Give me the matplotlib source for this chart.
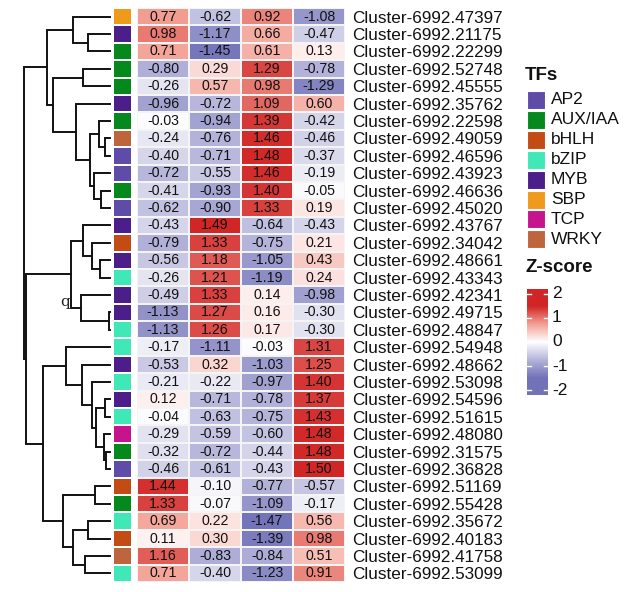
import numpy as np
import matplotlib
matplotlib.use("Agg")
import matplotlib.pyplot as plt
from matplotlib.colors import LinearSegmentedColormap, ListedColormap, Normalize
from matplotlib.patches import Rectangle

plt.rcParams['font.family'] = ['Liberation Sans', 'DejaVu Sans']

#   Row names (top to bottom, dendrogram order)
clusters = ["47397", "21175", "22299", "52748", "45555", "35762", "22598",
            "49059", "46596", "43923", "46636", "45020", "43767", "34042",
            "48661", "43343", "42341", "49715", "48847", "54948", "48662",
            "53098", "54596", "51615", "48080", "31575", "36828", "51169",
            "55428", "35672", "40183", "41758", "53099"]
row_labels = ["Cluster-6992." + c for c in clusters]

#   TF family of every row
tf_of_row = ["SBP", "MYB", "AUX/IAA", "AUX/IAA", "AUX/IAA", "MYB", "AUX/IAA",
             "WRKY", "AP2", "AP2", "AUX/IAA", "AP2", "MYB", "bHLH", "MYB",
             "bZIP", "MYB", "MYB", "bZIP", "bZIP", "MYB", "bZIP", "MYB",
             "bZIP", "TCP", "AUX/IAA", "AP2", "bHLH", "AUX/IAA", "bZIP",
             "bHLH", "WRKY", "bZIP"]

#   Z-scores, one list per sample column
col1 = [0.77, 0.98, 0.71, -0.80, -0.26, -0.96, -0.03, -0.24, -0.40, -0.72, -0.41,
        -0.62, -0.43, -0.79, -0.56, -0.26, -0.49, -1.13, -1.13, -0.17, -0.53, -0.21,
        0.12, -0.04, -0.29, -0.32, -0.46, 1.44, 1.33, 0.69, 0.11, 1.16, 0.71]
col2 = [-0.62, -1.17, -1.45, 0.29, 0.57, -0.72, -0.94, -0.76, -0.71, -0.55, -0.93,
        -0.90, 1.49, 1.33, 1.18, 1.21, 1.33, 1.27, 1.26, -1.11, 0.32, -0.22,
        -0.71, -0.63, -0.59, -0.72, -0.61, -0.10, -0.07, 0.22, 0.30, -0.83, -0.40]
col3 = [0.92, 0.66, 0.61, 1.29, 0.98, 1.09, 1.39, 1.46, 1.48, 1.46, 1.40,
        1.33, -0.64, -0.75, -1.05, -1.19, 0.14, 0.16, 0.17, -0.03, -1.03, -0.97,
        -0.78, -0.75, -0.60, -0.44, -0.43, -0.77, -1.09, -1.47, -1.39, -0.84, -1.23]
col4 = [-1.08, -0.47, 0.13, -0.78, -1.29, 0.60, -0.42, -0.46, -0.37, -0.19, -0.05,
        0.19, -0.43, 0.21, 0.43, 0.24, -0.98, -0.30, -0.30, 1.31, 1.25, 1.40,
        1.37, 1.43, 1.48, 1.48, 1.50, -0.57, -0.17, 0.56, 0.98, 0.51, 0.91]

#   Legend families and their colours
tf_names = ["AP2", "AUX/IAA", "bHLH", "bZIP", "MYB", "SBP", "TCP", "WRKY"]
tf_colors = ["#5F4BA8", "#05881C", "#C24C14", "#40E8B8", "#4B1E8A", "#EF9A1A",
             "#C6148C", "#BE653E"]

#   Row dendrogram: (height, left, right), leaves are row indices
tree = (86,
        (63,
         (37, 0, (22, 1, 2)),
         (57, (27, 3, 4),
          (34, 5, (20, (11, 6, (5, 7, 8)), (16, 9, (9, 10, 11)))))),
        (84,
         (39, (27, 12, (18, 13, (10, 14, 15))), (29, 16, (1, 17, 18))),
         (67, (44, 19, (28, 20, (18, 21, (14, (5, 22, 23), (6, 24, (4, 25, 26)))))),
          (47, (15, 27, 28), (37, (22, 29, 30), (25, 31, 32))))))

W, H = 631, 592


def box(x0, y0, x1, y1):
    #   pixel box (top-left origin) to figure fraction
    return [x0 / W, 1 - y1 / H, (x1 - x0) / W, (y1 - y0) / H]


fig = plt.figure(figsize=(W / 100, H / 100), dpi=100)

n = len(row_labels)
data = np.array([col1, col2, col3, col4]).T

cmap = LinearSegmentedColormap.from_list(
    "bwr2", [(0.0, "#7272B9"), (0.25, "#B4B4DA"), (0.5, "#FFFFFF"),
             (0.75, "#F3A094"), (1.0, "#D02626")])
norm = Normalize(-1.5, 1.5, clip=True)

#   Heatmap
ax = fig.add_axes(box(137, 8, 345, 582))
ax.pcolormesh(np.arange(5), np.arange(n + 1), data, cmap=cmap, norm=norm,
              edgecolors="#F4F4F4", linewidth=1.3)
for i in range(n):
    for j in range(4):
        ax.text(j + 0.5, i + 0.5, "{:.2f}".format(data[i, j]), ha="center",
                va="center", fontsize=10.2, color="#111111")
ax.set_xlim(0, 4)
ax.set_ylim(n, 0)
ax.set_xticks([])
ax.yaxis.tick_right()
ax.set_yticks(np.arange(n) + 0.5)
ax.set_yticklabels(row_labels, fontsize=12.3, color="#111111")
ax.tick_params(axis="y", length=0, pad=5)
for s in ax.spines.values():
    s.set_visible(False)

#   Annotation column
ax_a = fig.add_axes(box(113, 8, 132, 582))
idx = np.array([tf_names.index(t) for t in tf_of_row]).reshape(-1, 1)
ax_a.pcolormesh(np.arange(2), np.arange(n + 1), idx, cmap=ListedColormap(tf_colors),
                vmin=-0.5, vmax=len(tf_names) - 0.5, edgecolors="white", linewidth=1.3)
ax_a.set_xlim(0, 1)
ax_a.set_ylim(n, 0)
ax_a.axis("off")

#   Dendrogram
ax_d = fig.add_axes(box(20, 8, 111, 582))


def draw(node):
    if isinstance(node, int):
        return node + 0.5, 0
    h, left, right = node
    yl, hl = draw(left)
    yr, hr = draw(right)
    ax_d.plot([hl, h, h, hr], [yl, yl, yr, yr], color="#111111", lw=1.4,
              solid_joinstyle="miter")
    return (yl + yr) / 2, h


draw(tree)
ax_d.set_xlim(90, -1)
ax_d.set_ylim(n, 0)
ax_d.axis("off")
fig.text(65 / W, 1 - 302 / H, "q", family="DejaVu Serif", fontsize=11,
         ha="center", va="center", color="#222222")

#   TFs legend
fig.text(525 / W, 1 - 75 / H, "TFs", fontsize=13.5, fontweight="bold",
         ha="left", va="center", color="#111111")
for k, (name, c) in enumerate(zip(tf_names, tf_colors)):
    yc = 100 + k * 19.9
    fig.add_artist(Rectangle(((527) / W, 1 - (yc + 9) / H), 18 / W, 18 / H,
                             facecolor=c, edgecolor="white", lw=0.8,
                             transform=fig.transFigure))
    fig.text(551 / W, 1 - yc / H, name, fontsize=12.5, ha="left", va="center",
             color="#111111")

#   Z-score legend
fig.text(525 / W, 1 - 268 / H, "Z-score", fontsize=13.5, fontweight="bold",
         ha="left", va="center", color="#111111")
ax_c = fig.add_axes(box(527, 289, 548, 395))
grad = np.linspace(-2.2, 2.2, 200).reshape(-1, 1)
ax_c.imshow(grad, cmap=cmap, norm=norm, aspect="auto", origin="lower",
            extent=[0, 1, -2.2, 2.2])
for t in [-2, -1, 0, 1, 2]:
    ax_c.plot([0, 0.2], [t, t], color="white", lw=1)
    ax_c.plot([0.8, 1], [t, t], color="white", lw=1)
    fig.text(552 / W, 1 - (342 - t * 24.2) / H, str(t),
             fontsize=12.5, ha="left", va="center", color="#111111")
ax_c.set_xlim(0, 1)
ax_c.set_ylim(-2.2, 2.2)
ax_c.axis("off")

fig.savefig("out.png", dpi=100)
